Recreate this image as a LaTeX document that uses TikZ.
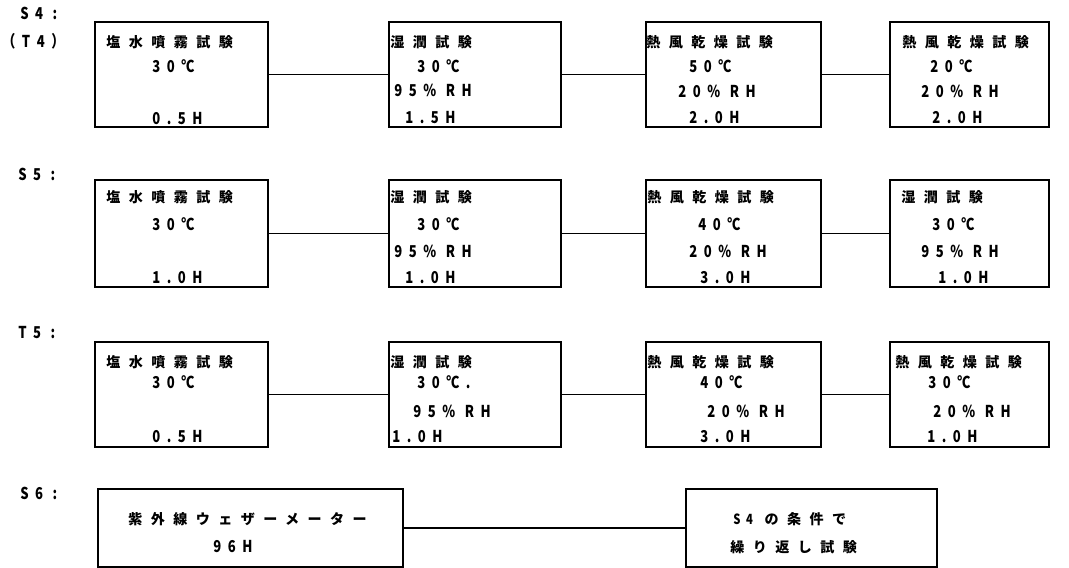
\documentclass[tikz,border=0pt]{standalone}
\usepackage{fontspec}
\newfontfamily\tfont[LetterSpace=60]{Noto Sans CJK JP}
\newfontfamily\nfont[LetterSpace=40, FakeStretch=0.8]{Noto Sans CJK JP}
\tikzset{
	box/.style={draw, line width=1.1pt, inner sep=0pt},
	lbl/.style={anchor=west, inner sep=0pt, text height=6.8pt, text depth=0pt,
		font=\fontsize{9.3}{11}\nfont\bfseries},
	ttl/.style={lbl, text height=6pt, font=\fontsize{8}{10}\tfont\bfseries},
	link/.style={line width=0.8pt}
}

\begin{document}
\begin{tikzpicture}[x=0.02cm,y=-0.02cm]
	\useasboundingbox (0,0) rectangle (1069,568);

	% S4 (T4)
	\node[lbl] (s4) at (20,14) {S4 :};
	\node[lbl] (t4) at (2,42) {（T4）};
	\node[box, minimum width=3.46cm, minimum height=2.1cm] (a1) at (181.5,74.5) {};
	\node[box, minimum width=3.44cm, minimum height=2.1cm] (a2) at (475,74.5) {};
	\node[box, minimum width=3.5cm, minimum height=2.1cm] (a3) at (733.5,74.5) {};
	\node[box, minimum width=3.18cm, minimum height=2.1cm] (a4) at (969.5,74.5) {};
	\draw[link] (a1) -- (a2);
	\draw[link] (a2) -- (a3);
	\draw[link] (a3) -- (a4);

	\node[ttl] (a1t) at (106,42) {塩水噴霧試験};
	\node[lbl] (a1b) at (152,67) {30℃};
	\node[lbl] (a1c) at (152,119) {0.5H};
	\node[ttl] (a2t) at (390,42) {湿潤試験};
	\node[lbl] (a2b) at (417,67) {30℃};
	\node[lbl] (a2c) at (394,91) {95\% RH};
	\node[lbl] (a2d) at (405,118) {1.5H};
	\node[ttl] (a3t) at (646,42) {熱風乾燥試験};
	\node[lbl] (a3b) at (689,67) {50℃};
	\node[lbl] (a3c) at (678,92) {20\% RH};
	\node[lbl] (a3d) at (689,118) {2.0H};
	\node[ttl] (a4t) at (902,42) {熱風乾燥試験};
	\node[lbl] (a4b) at (930,67) {20℃};
	\node[lbl] (a4c) at (921,92) {20\% RH};
	\node[lbl] (a4d) at (932,118) {2.0H};

	% S5
	\node[lbl] (s5) at (18,175) {S5 :};
	\node[box, minimum width=3.46cm, minimum height=2.14cm] (b1) at (181.5,233.5) {};
	\node[box, minimum width=3.44cm, minimum height=2.14cm] (b2) at (475,233.5) {};
	\node[box, minimum width=3.5cm, minimum height=2.14cm] (b3) at (733.5,233.5) {};
	\node[box, minimum width=3.18cm, minimum height=2.14cm] (b4) at (969.5,233.5) {};
	\draw[link] (b1) -- (b2);
	\draw[link] (b2) -- (b3);
	\draw[link] (b3) -- (b4);

	\node[ttl] (b1t) at (106,197) {塩水噴霧試験};
	\node[lbl] (b1b) at (152,225) {30℃};
	\node[lbl] (b1c) at (152,278) {1.0H};
	\node[ttl] (b2t) at (390,197) {湿潤試験};
	\node[lbl] (b2b) at (417,225) {30℃};
	\node[lbl] (b2c) at (394,252) {95\% RH};
	\node[lbl] (b2d) at (405,278) {1.0H};
	\node[ttl] (b3t) at (647,197) {熱風乾燥試験};
	\node[lbl] (b3b) at (698,225) {40℃};
	\node[lbl] (b3c) at (689,252) {20\% RH};
	\node[lbl] (b3d) at (700,278) {3.0H};
	\node[ttl] (b4t) at (901,197) {湿潤試験};
	\node[lbl] (b4b) at (932,225) {30℃};
	\node[lbl] (b4c) at (921,252) {95\% RH};
	\node[lbl] (b4d) at (938,278) {1.0H};

	% T5
	\node[lbl] (t5) at (18,333) {T5 :};
	\node[box, minimum width=3.46cm, minimum height=2.1cm] (c1) at (181.5,394.5) {};
	\node[box, minimum width=3.44cm, minimum height=2.1cm] (c2) at (475,394.5) {};
	\node[box, minimum width=3.5cm, minimum height=2.1cm] (c3) at (733.5,394.5) {};
	\node[box, minimum width=3.18cm, minimum height=2.1cm] (c4) at (969.5,394.5) {};
	\draw[link] (c1) -- (c2);
	\draw[link] (c2) -- (c3);
	\draw[link] (c3) -- (c4);

	\node[ttl] (c1t) at (106,362) {塩水噴霧試験};
	\node[lbl] (c1b) at (152,383) {30℃};
	\node[lbl] (c1c) at (152,437) {0.5H};
	\node[ttl] (c2t) at (390,362) {湿潤試験};
	\node[lbl] (c2b) at (417,383) {30℃.};
	\node[lbl] (c2c) at (413,412) {95\% RH};
	\node[lbl] (c2d) at (392,437) {1.0H};
	\node[ttl] (c3t) at (647,362) {熱風乾燥試験};
	\node[lbl] (c3b) at (700,383) {40℃};
	\node[lbl] (c3c) at (707,412) {20\% RH};
	\node[lbl] (c3d) at (700,437) {3.0H};
	\node[ttl] (c4t) at (895,362) {熱風乾燥試験};
	\node[lbl] (c4b) at (928,383) {30℃};
	\node[lbl] (c4c) at (933,412) {20\% RH};
	\node[lbl] (c4d) at (927,437) {1.0H};

	% S6
	\node[lbl] (s6) at (20,494) {S6 :};
	\node[box, minimum width=6.1cm, minimum height=1.56cm] (d1) at (250.5,528) {};
	\node[box, minimum width=5.02cm, minimum height=1.56cm] (d2) at (811.5,528) {};
	\draw[link] (d1) -- (d2);

	\node[ttl] (d1t) at (128,519) {紫外線ウェザーメーター};
	\node[lbl] (d1b) at (213,547) {96H};
	\node[ttl] (d2t) at (733,519) {{\nfont S4}\ の条件で};
	\node[ttl] (d2b) at (730,547) {繰り返し試験};

\end{tikzpicture}
\end{document}
